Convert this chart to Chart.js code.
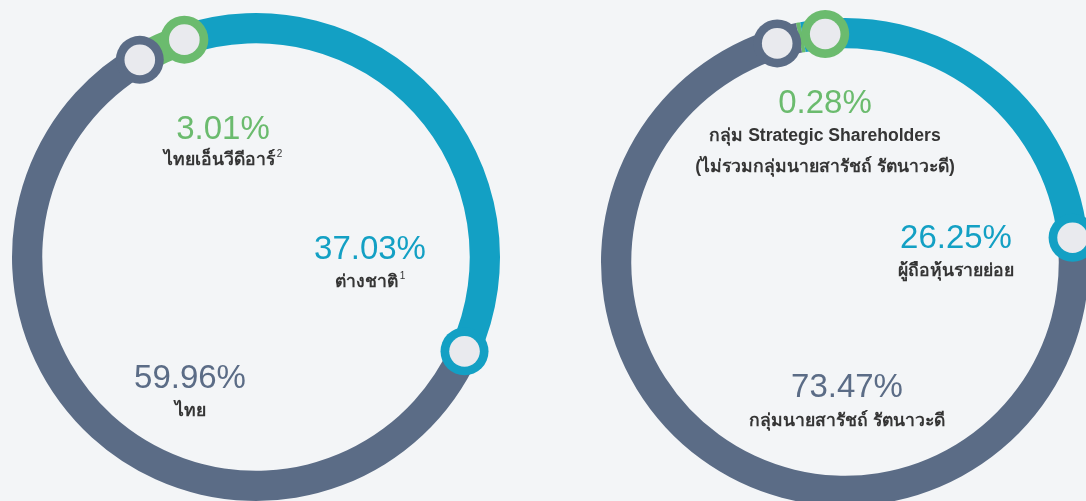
<!DOCTYPE html>
<html>
<head>
<meta charset="utf-8">
<script src="https://cdn.jsdelivr.net/npm/chart.js@4.4.1/dist/chart.umd.min.js"></script>
<style>
  html, body { margin: 0; padding: 0; width: 1086px; height: 501px; overflow: hidden; background: #f3f5f7; }
  .ring { position: absolute; width: 540px; height: 540px; }
  .lbl { position: absolute; transform: translate(-50%, -50%); white-space: nowrap; text-align: center; }
  .val { font-family: "Liberation Sans", Arial, sans-serif; font-size: 33px; line-height: 1; }
  .name { font-family: "Liberation Sans", "Noto Sans", sans-serif; font-weight: bold; font-size: 17.6px; line-height: 31px; color: #353535; }
  .name sup { font-size: 10px; font-weight: normal; vertical-align: 8px; line-height: 0; margin-left: 2px; }
</style>
</head>
<body>
<div class="ring" style="left:-14px; top:-13px;"><canvas id="nation" width="540" height="540"></canvas></div>
<div class="ring" style="left:575px; top:-8px;"><canvas id="group" width="540" height="540"></canvas></div>
<div id="labels"></div>
<script>
// Shareholders by nationality
const nationCategories = ['ไทยเอ็นวีดีอาร์', 'ต่างชาติ', 'ไทย'];
const nationNotes = ['2', '1', ''];
const nationValues = [3.01, 37.03, 59.96];

// Shareholders by group
const groupCategories = ['กลุ่ม Strategic Shareholders|(ไม่รวมกลุ่มนายสารัชถ์ รัตนาวะดี)', 'ผู้ถือหุ้นรายย่อย', 'กลุ่มนายสารัชถ์ รัตนาวะดี'];
const groupNotes = ['', '', ''];
const groupValues = [0.28, 26.25, 73.47];

const sliceColors = ['#6bbb6e', '#13a0c4', '#5b6c86'];
const knobFill = '#e9eaee';

// Round markers sitting on the end of every slice
const knobPlugin = {
  id: 'knobs',
  afterDatasetsDraw(chart, args, opts) {
    const arcs = chart.getDatasetMeta(0).data;
    const n = arcs.length;
    const p = arcs[0].getProps(['x', 'y', 'innerRadius', 'outerRadius'], true);
    const rMid = (p.innerRadius + p.outerRadius) / 2;
    const minSep = (2 * opts.radius + opts.gap) / rMid;
    const ang = arcs.map(a => a.getProps(['endAngle'], true).endAngle);
    // keep neighbouring markers from covering each other
    for (let it = 0; it < 20; it++) {
      for (let i = 0; i < n; i++) {
        const j = (i + 1) % n;
        const d = ang[j] - ang[i] + (j === 0 ? Math.PI * 2 : 0);
        if (d < minSep) {
          const push = (minSep - d) / 2;
          ang[i] -= push;
          ang[j] += push;
        }
      }
    }
    const ctx = chart.ctx;
    ctx.save();
    arcs.forEach((a, i) => {
      const cx = p.x + Math.cos(ang[i]) * rMid;
      const cy = p.y + Math.sin(ang[i]) * rMid;
      ctx.beginPath();
      ctx.arc(cx, cy, opts.radius, 0, Math.PI * 2);
      ctx.fillStyle = a.options.backgroundColor;
      ctx.fill();
      ctx.beginPath();
      ctx.arc(cx, cy, opts.innerRadius, 0, Math.PI * 2);
      ctx.fillStyle = knobFill;
      ctx.fill();
    });
    ctx.restore();
  }
};

function makeRing(id, categories, values, rotation) {
  return new Chart(document.getElementById(id), {
    type: 'doughnut',
    data: {
      labels: categories,
      datasets: [{ data: values, backgroundColor: sliceColors, borderWidth: 0, hoverOffset: 0 }]
    },
    options: {
      responsive: false,
      animation: false,
      events: [],
      rotation: rotation,
      cutout: '87.6%',
      layout: { padding: 26 },
      plugins: {
        legend: { display: false },
        tooltip: { enabled: false },
        knobs: { radius: 24, innerRadius: 15.3, gap: 1 }
      }
    },
    plugins: [knobPlugin]
  });
}

makeRing('nation', nationCategories, nationValues, -29.8);
makeRing('group', groupCategories, groupValues, -11.6);

// Value and caption placement (value centre, caption centre)
const nationLabelPos = [[223, 127, 159], [370, 247, 281], [190, 376, 410]];
const groupLabelPos = [[825, 101, 151], [956, 236, 270], [847, 385, 420]];

function addLabels(categories, notes, values, pos) {
  const host = document.getElementById('labels');
  values.forEach((v, i) => {
    const val = document.createElement('div');
    val.className = 'lbl val';
    val.style.left = pos[i][0] + 'px';
    val.style.top = pos[i][1] + 'px';
    val.style.color = sliceColors[i];
    val.textContent = v.toFixed(2) + '%';
    host.appendChild(val);
    const name = document.createElement('div');
    name.className = 'lbl name';
    name.style.left = pos[i][0] + 'px';
    name.style.top = pos[i][2] + 'px';
    categories[i].split('|').forEach((line, k, all) => {
      name.appendChild(document.createTextNode(line));
      if (k < all.length - 1) name.appendChild(document.createElement('br'));
    });
    if (notes[i]) {
      const s = document.createElement('sup');
      s.textContent = notes[i];
      name.appendChild(s);
    }
    host.appendChild(name);
  });
}
addLabels(nationCategories, nationNotes, nationValues, nationLabelPos);
addLabels(groupCategories, groupNotes, groupValues, groupLabelPos);
</script>
</body>
</html>
